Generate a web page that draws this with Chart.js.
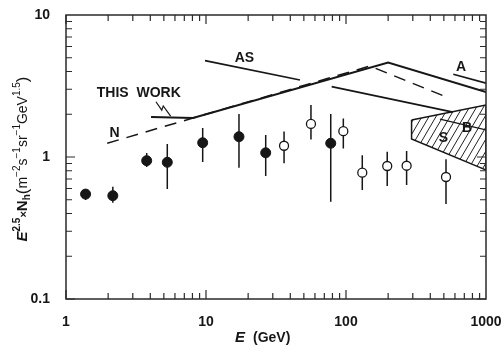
<!DOCTYPE html>
<html>
<head>
<meta charset="utf-8">
<script src="https://cdn.jsdelivr.net/npm/chart.js@4.4.1/dist/chart.umd.min.js"></script>
<style>
  html, body { margin: 0; padding: 0; background: #fff; }
  #wrap { width: 502px; height: 350px; }
</style>
</head>
<body>
<div id="wrap"><canvas id="flux-chart" width="502" height="350"></canvas></div>
<script>
// values: E in GeV, E^2.5 x Nh
var filledE  = [1.38, 2.16, 3.77, 5.29, 9.47, 17.2, 26.7, 77.8];
var filledV  = [0.548, 0.534, 0.942, 0.918, 1.26, 1.39, 1.07, 1.25];
var filledLo = [0.498, 0.476, 0.851, 0.595, 0.923, 0.84, 0.735, 0.484];
var filledHi = [0.586, 0.617, 1.067, 1.236, 1.60, 2.01, 1.43, 2.01];

var openE  = [36.1, 56.2, 95.7, 130.7, 197, 271, 518];
var openV  = [1.20, 1.71, 1.52, 0.775, 0.864, 0.868, 0.723];
var openLo = [0.903, 1.33, 1.15, 0.586, 0.625, 0.636, 0.467];
var openHi = [1.51, 2.32, 1.87, 1.03, 1.09, 1.10, 0.963];

var thisWorkE = [4.05, 8.07, 200, 1000];
var thisWorkV = [1.91, 1.88, 4.63, 2.87];
var lowerE = [79, 581];
var lowerV = [3.13, 2.07];
var nE = [1.97, 148, 500];
var nV = [1.25, 4.37, 2.69];
var asE = [9.84, 46.9];
var asV = [4.77, 3.49];
var aE = [584, 1000];
var aV = [3.82, 3.31];
var bE = [469, 1000];
var bV = [1.85, 1.55];
var sE = [294, 1000, 1000, 294, 294];
var sV = [1.82, 2.32, 0.81, 1.34, 1.82];

// the little zigzag pointing from the label to the line
var arrowE = [4.39, 4.83, 4.95, 5.59];
var arrowV = [2.45, 2.14, 2.29, 1.94];

var noteText = ['THIS  WORK', 'AS', 'N', 'A', 'B', 'S'];
var noteE = [1.66, 18.8, 2.22, 663, 731, 497];
var noteV = [2.82, 4.95, 1.48, 4.28, 1.59, 1.36];

var xTickLabels = [1, 10, 100, 1000];
var yTickLabels = [0.1, 1, 10];

var FONT = "'Liberation Sans', Arial, sans-serif";
var INK = '#161616';

function xy(xs, ys) {
  return xs.map(function (x, i) { return { x: x, y: ys[i] }; });
}

var canvas = document.getElementById('flux-chart');

// diagonal hatching for the S region
var tile = document.createElement('canvas');
tile.width = 7; tile.height = 12;
var tg = tile.getContext('2d');
tg.strokeStyle = '#222';
tg.lineWidth = 1;
tg.beginPath();
tg.moveTo(-7, 12); tg.lineTo(0, 0);
tg.moveTo(0, 12); tg.lineTo(7, 0);
tg.moveTo(7, 12); tg.lineTo(14, 0);
tg.stroke();
var hatch = canvas.getContext('2d').createPattern(tile, 'repeat');

function lineSet(xs, ys, width, dash) {
  return {
    data: xy(xs, ys),
    showLine: true,
    borderColor: INK,
    borderWidth: width,
    borderDash: dash || [],
    pointRadius: 0,
    fill: false
  };
}

var errorBars = {
  id: 'errorBars',
  beforeDatasetsDraw: function (chart) {
    var ctx = chart.ctx, xs = chart.scales.x, ys = chart.scales.y;
    ctx.save();
    ctx.strokeStyle = INK;
    ctx.lineWidth = 1.5;
    ctx.beginPath();
    [[filledE, filledLo, filledHi], [openE, openLo, openHi]].forEach(function (s) {
      s[0].forEach(function (e, i) {
        var px = xs.getPixelForValue(e);
        ctx.moveTo(px, ys.getPixelForValue(s[1][i]));
        ctx.lineTo(px, ys.getPixelForValue(s[2][i]));
      });
    });
    ctx.stroke();
    ctx.restore();
  }
};

function isDecade(v) {
  var l = Math.log10(v);
  return Math.abs(l - Math.round(l)) < 1e-6;
}

var frame = {
  id: 'frame',
  afterDatasetsDraw: function (chart) {
    var ctx = chart.ctx, a = chart.chartArea, xs = chart.scales.x, ys = chart.scales.y;
    ctx.save();
    ctx.strokeStyle = '#2a2a2a';
    ctx.lineWidth = 1.5;
    ctx.strokeRect(a.left, a.top, a.right - a.left, a.bottom - a.top);

    ctx.lineWidth = 1.2;
    ctx.beginPath();
    var m, d, v, p, len;
    for (d = 1; d <= 100; d *= 10) {
      for (m = 1; m <= 9; m++) {
        v = m * d;
        p = xs.getPixelForValue(v);
        len = isDecade(v) ? 9 : 6;
        ctx.moveTo(p, a.bottom); ctx.lineTo(p, a.bottom - len);
        ctx.moveTo(p, a.top); ctx.lineTo(p, a.top + len);
      }
    }
    for (d = 0.1; d <= 1.01; d *= 10) {
      for (m = 1; m <= 9; m++) {
        v = m * d;
        p = ys.getPixelForValue(v);
        len = isDecade(v) ? 9 : 6;
        ctx.moveTo(a.left, p); ctx.lineTo(a.left + len, p);
        ctx.moveTo(a.right, p); ctx.lineTo(a.right - len, p);
      }
    }
    ctx.stroke();

    // zigzag pointer
    ctx.strokeStyle = INK;
    ctx.lineWidth = 1.2;
    ctx.beginPath();
    arrowE.forEach(function (e, i) {
      var px = xs.getPixelForValue(e), py = ys.getPixelForValue(arrowV[i]);
      if (i === 0) ctx.moveTo(px, py); else ctx.lineTo(px, py);
    });
    ctx.stroke();

    // curve labels
    ctx.fillStyle = INK;
    ctx.font = 'bold 14px ' + FONT;
    ctx.textBaseline = 'middle';
    noteText.forEach(function (t, i) {
      ctx.textAlign = i === 0 ? 'left' : 'center';
      ctx.fillText(t, xs.getPixelForValue(noteE[i]), ys.getPixelForValue(noteV[i]));
    });

    // x title: E (GeV)
    ctx.textAlign = 'left';
    ctx.textBaseline = 'alphabetic';
    ctx.font = 'italic bold 15px ' + FONT;
    ctx.fillText('E', 235, 342);
    ctx.font = 'bold 14px ' + FONT;
    ctx.fillText('(GeV)', 253, 342);

    // y title with super/subscripts
    var parts = [
      ['E', 'italic bold 15px', 0],
      ['2.5', 'bold 10px', -7],
      ['\u00d7', 'bold 11px', 0],
      ['N', 'bold 15px', 0],
      ['h', 'bold 10px', 3],
      ['(', '17px', 1],
      ['m', '14px', 0],
      ['\u22122', '10px', -7],
      ['s', '14px', 0],
      ['\u22121', '10px', -7],
      ['sr', '14px', 0],
      ['\u22121', '10px', -7],
      ['GeV', '14px', 0],
      ['1.5', '10px', -7],
      [')', '17px', 1]
    ];
    var total = 0;
    parts.forEach(function (p) {
      ctx.font = p[1] + ' ' + FONT;
      p.push(ctx.measureText(p[0]).width);
      total += p[3];
    });
    ctx.translate(27, 159);
    ctx.rotate(-Math.PI / 2);
    var u = -total / 2;
    parts.forEach(function (p) {
      ctx.font = p[1] + ' ' + FONT;
      ctx.fillText(p[0], u, p[2]);
      u += p[3];
    });
    ctx.restore();
  }
};

var data = {
  datasets: [
    {
      data: xy(filledE, filledV),
      pointRadius: 5,
      pointBackgroundColor: INK,
      pointBorderColor: INK,
      pointBorderWidth: 1
    },
    {
      data: xy(openE, openV),
      pointRadius: 4.5,
      pointBackgroundColor: '#fff',
      pointBorderColor: INK,
      pointBorderWidth: 1.3
    },
    lineSet(thisWorkE, thisWorkV, 2),
    lineSet(lowerE, lowerV, 1.6),
    lineSet(nE, nV, 1.5, [12, 8]),
    lineSet(asE, asV, 1.6),
    lineSet(aE, aV, 1.6),
    lineSet(bE, bV, 1.3),
    {
      data: xy(sE, sV),
      showLine: true,
      borderColor: INK,
      borderWidth: 1.5,
      pointRadius: 0,
      backgroundColor: hatch,
      fill: 'shape'
    }
  ]
};

var tickFont = { family: FONT, size: 14, weight: 'bold' };

var options = {
  responsive: false,
  animation: false,
  layout: { padding: { top: 15, right: 16, left: 0, bottom: 0 } },
  plugins: { legend: { display: false }, tooltip: { enabled: false } },
  scales: {
    x: {
      type: 'logarithmic',
      min: 1,
      max: 1000,
      grid: { display: false },
      border: { display: false },
      afterBuildTicks: function (s) { s.ticks = xTickLabels.map(function (v) { return { value: v }; }); },
      afterFit: function (s) { s.height = 51; s.paddingLeft = 0; s.paddingRight = 0; },
      ticks: {
        autoSkip: false,
        maxRotation: 0,
        padding: 7,
        color: INK,
        font: tickFont,
        callback: function (v) { return String(v); }
      }
    },
    y: {
      type: 'logarithmic',
      min: 0.1,
      max: 10,
      grid: { display: false },
      border: { display: false },
      afterBuildTicks: function (s) { s.ticks = yTickLabels.map(function (v) { return { value: v }; }); },
      afterFit: function (s) { s.width = 66; s.paddingTop = 0; s.paddingBottom = 0; },
      ticks: {
        autoSkip: false,
        padding: 8,
        color: INK,
        font: tickFont,
        callback: function (v) { return String(v); }
      }
    }
  }
};

var chart = new Chart(canvas, {
  type: 'scatter',
  data: data,
  options: options,
  plugins: [errorBars, frame]
});
</script>
</body>
</html>
